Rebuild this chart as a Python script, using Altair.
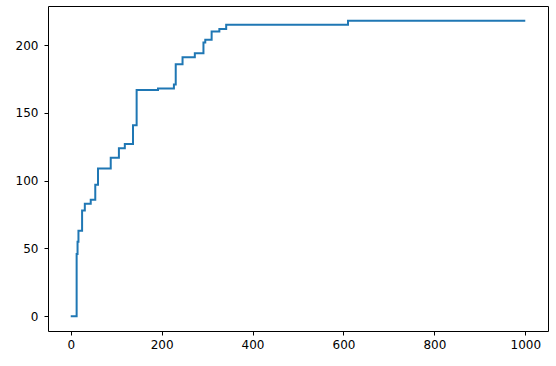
import altair as alt
import pandas as pd

# step change points (x where the value jumps, value after the jump)
xs = [0, 13, 15, 17, 25, 31, 44, 54, 60, 88, 106, 119, 137, 145, 192, 227, 231,
      246, 273, 292, 296, 310, 327, 342, 610, 1000]
ys = [0, 46, 55, 63, 78, 83, 86, 97, 109, 117, 124, 127, 141, 167, 168, 171, 186,
      191, 194, 202, 204, 210, 212, 215, 218, 218]

x_ticks = [0, 200, 400, 600, 800, 1000]
y_ticks = [0, 50, 100, 150, 200]

df = pd.DataFrame({"x": xs, "y": ys})

chart = alt.Chart(df).mark_line(
    interpolate="step-after", color="#1f77b4", strokeWidth=2
).encode(
    x=alt.X("x:Q", scale=alt.Scale(domain=[-50, 1050], nice=False, zero=False),
            axis=alt.Axis(values=x_ticks, format="d", title=None, grid=False,
                          domain=False, labelPadding=4)),
    y=alt.Y("y:Q", scale=alt.Scale(domain=[-10.9, 228.9], nice=False, zero=False),
            axis=alt.Axis(values=y_ticks, format="d", title=None, grid=False,
                          domain=False, labelPadding=6)),
).properties(
    width=500, height=325,
    background="white",
    autosize=alt.AutoSizeParams(type="none"),
    padding={"left": 48, "top": 6, "right": 8, "bottom": 35},
).configure_view(
    stroke="#000000", strokeWidth=1
).configure_axis(
    labelFont="DejaVu Sans", labelFontSize=12, labelColor="#000000",
    tickColor="#000000", tickSize=4, tickWidth=1,
)

chart.save("out.html", embed_options={"renderer": "svg", "actions": False})
